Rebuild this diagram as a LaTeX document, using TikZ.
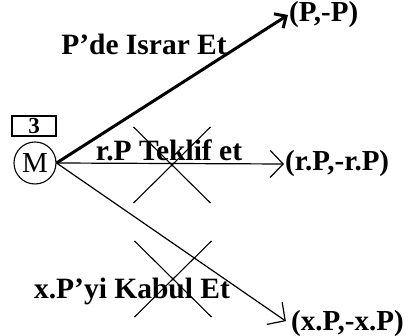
\documentclass[tikz,border=0pt]{standalone}
\usepackage{fontspec}
\setmainfont{Liberation Serif}
\usetikzlibrary{arrows.meta,shapes.misc}
\tikzset{
  movebox/.style={rectangle,draw,line width=1.2pt,minimum width=44pt,
                  minimum height=20pt,inner sep=0pt,
                  font=\fontsize{23}{23}\selectfont\bfseries},
  player/.style={circle,draw,line width=1.1pt,minimum size=42pt,
                 inner sep=0pt,font=\fontsize{29}{29}\selectfont},
  payoff/.style={anchor=west,inner sep=1pt,
                 font=\fontsize{29}{29}\selectfont\bfseries},
  act/.style={inner sep=0pt,font=\fontsize{29.5}{30}\selectfont\bfseries},
  strike/.style={cross out,draw,line width=1.1pt,minimum width=76pt,
                 minimum height=75pt,inner sep=0pt},
  best/.style={-{Straight Barb[length=9pt,width=17pt]},line width=3pt},
  rest/.style={-{Straight Barb[length=13pt,width=27pt]},line width=1.2pt},
}
\begin{document}
\begin{tikzpicture}[x=1pt,y=-1pt]
\useasboundingbox (0,0) rectangle (408,336);
\node[movebox] (mv) at (34,126) {3};
\node[player] (m) at (35,163) {M};
\node[payoff] (pp) at (288,15) {(P,-P)};
\node[payoff] (rp) at (284,164) {(r.P,-r.P)};
\node[payoff] (xp) at (290,324) {(x.P,-x.P)};
\node[act] (insist) at (144,44) {P’de Israr Et};
\node[act] (offer) at (169,150) {r.P Teklif et};
\node[act] (accept) at (132,291) {x.P’yi Kabul Et};
\draw[best] (m.east) -- (pp.west);
\draw[rest] (m.east) -- (rp.west);
\draw[rest,shorten >=5pt] (m.east) -- (xp.west);
\node[strike] (xr) at (172,165) {};
\node[strike] (xa) at (173,279) {};
\end{tikzpicture}
\end{document}
